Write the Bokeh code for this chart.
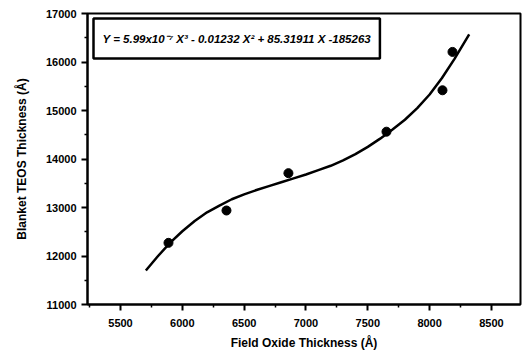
from bokeh.plotting import figure
from bokeh.models import FixedTicker, Label, Range1d
from bokeh.embed import file_html
from bokeh.resources import INLINE

# measured data points
field_oxide = [5888, 6357, 6858, 7651, 8104, 8185]
teos = [12271, 12938, 13708, 14563, 15417, 16208]

# fitted curve
fit_x = [5705, 5800, 5900, 6000, 6100, 6200, 6300, 6400, 6500, 6600, 6700, 6800, 6900,
         7000, 7100, 7200, 7300, 7400, 7500, 7600, 7700, 7800, 7900, 8000, 8100, 8200, 8320]
fit_y = [11702, 11990, 12270, 12510, 12720, 12900, 13040, 13170, 13270, 13360, 13440, 13520, 13600,
         13680, 13770, 13860, 13970, 14100, 14250, 14420, 14610, 14810, 15050, 15330, 15670, 16060, 16570]

x_ticks = [5500, 6000, 6500, 7000, 7500, 8000, 8500]
x_minor = [5250, 5750, 6250, 6750, 7250, 7750, 8250]
y_ticks = [11000, 12000, 13000, 14000, 15000, 16000, 17000]
y_minor = [11500, 12500, 13500, 14500, 15500, 16500]

equation = "Y = 5.99x10\u207b\u2077 X\u00b3 - 0.01232 X\u00b2 + 85.31911 X -185263"

FONT = "Liberation Sans"

p = figure(width=530, height=358, output_backend="svg", toolbar_location=None,
           x_range=Range1d(5233, 8735), y_range=Range1d(11000, 17000),
           min_border_left=87, min_border_right=10, min_border_top=13, min_border_bottom=54)

p.background_fill_color = "white"
p.border_fill_color = "white"
p.grid.visible = False
p.outline_line_color = "black"
p.outline_line_width = 2

p.line(fit_x, fit_y, line_color="black", line_width=2.5)
p.scatter(field_oxide, teos, size=9, fill_color="black", line_color="black")

for ax in (p.xaxis, p.yaxis):
    ax.axis_line_width = 2
    ax.major_tick_line_width = 2
    ax.minor_tick_line_width = 1.5
    ax.major_tick_out = 6
    ax.major_tick_in = 0
    ax.minor_tick_out = 3
    ax.minor_tick_in = 0
    ax.major_label_text_font = FONT
    ax.major_label_text_font_style = "bold"
    ax.major_label_text_font_size = "11px"
    ax.major_label_text_color = "black"
    ax.axis_label_text_font = FONT
    ax.axis_label_text_font_style = "bold"
    ax.axis_label_text_font_size = "12px"
    ax.axis_label_text_color = "black"

p.xaxis.ticker = FixedTicker(ticks=x_ticks, minor_ticks=x_minor)
p.yaxis.ticker = FixedTicker(ticks=y_ticks, minor_ticks=y_minor)
p.xaxis.axis_label = "Field Oxide Thickness (\u00c5)"
p.yaxis.axis_label = "Blanket TEOS Thickness (\u00c5)"
p.xaxis.major_label_standoff = 8
p.yaxis.major_label_standoff = 5
p.xaxis.axis_label_standoff = 6
p.yaxis.axis_label_standoff = 14

eq = Label(x=6, y=286, x_units="screen", y_units="screen", text=equation,
           text_font=FONT, text_font_style="bold italic", text_font_size="11.5px",
           text_color="black", border_line_color="black", border_line_width=2.5,
           background_fill_color="white", padding=(9, 14),
           anchor="top_left")
p.add_layout(eq)

open("out.html", "w").write(file_html(p, INLINE))
